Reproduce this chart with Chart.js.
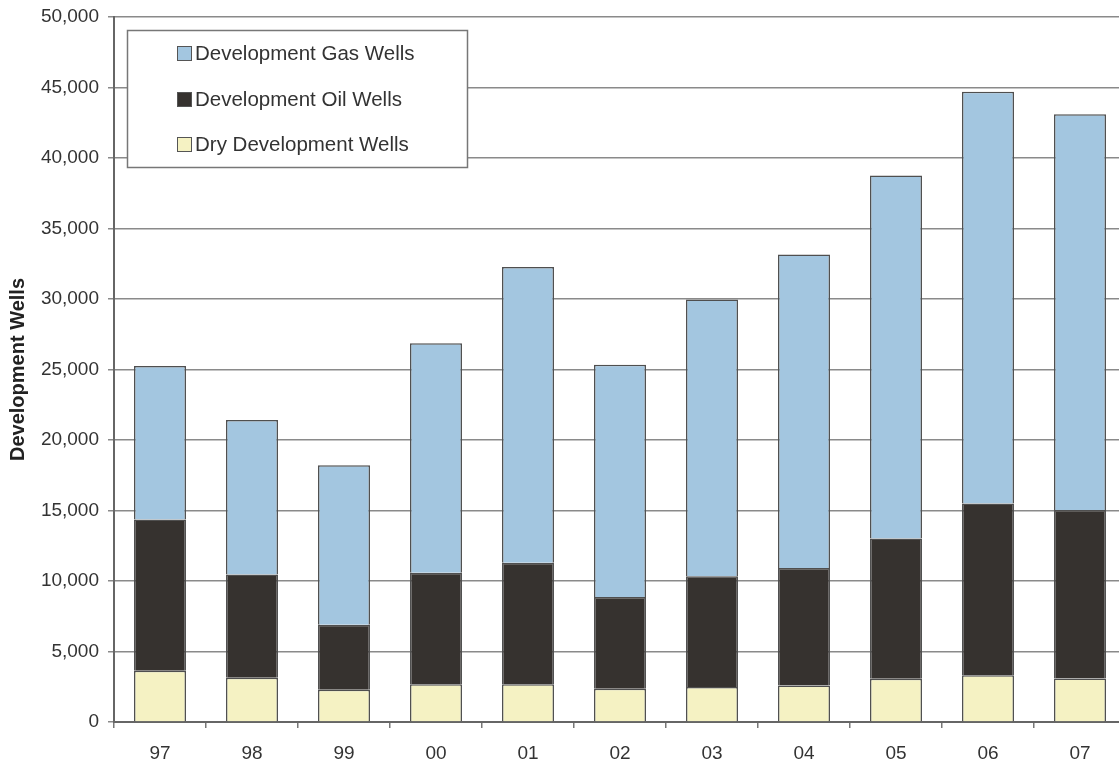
<!DOCTYPE html>
<html>
<head>
<meta charset="utf-8">
<script src="https://cdn.jsdelivr.net/npm/chart.js@4"></script>
<style>
  html, body { margin: 0; padding: 0; background: #fff; }
  #wrap { width: 1119px; height: 763px; overflow: hidden; }
</style>
</head>
<body>
<div id="wrap"><canvas id="myChart" width="1126" height="763"></canvas></div>
<script>
// years on the x axis
const years = ["97", "98", "99", "00", "01", "02", "03", "04", "05", "06", "07"];

// wells per year, one array per stack segment
const dryWells = [3630, 3130, 2280, 2680, 2680, 2350, 2490, 2580, 3060, 3320, 3080];
const oilWells = [10740, 7330, 4620, 7900, 8610, 6520, 7840, 8350, 9960, 12180, 11950];
const gasWells = [10880, 10950, 11310, 16280, 20980, 16470, 19630, 22230, 25740, 29190, 28070];

const yTicks = [0, 5000, 10000, 15000, 20000, 25000, 30000, 35000, 40000, 45000, 50000];

const font = "'Liberation Sans', Arial, sans-serif";

// boxed legend in the top left, gas first like the original
const boxLegend = {
  id: "boxLegend",
  afterDatasetsDraw(chart) {
    const c = chart.ctx;
    c.save();
    c.fillStyle = "#fff";
    c.fillRect(127, 30, 340, 137);
    c.strokeStyle = "#777";
    c.lineWidth = 1.5;
    c.strokeRect(127.5, 30.5, 340, 137);
    const items = chart.data.datasets.slice().reverse();
    const rows = [53, 99, 144];
    c.font = "20.5px " + font;
    c.textBaseline = "middle";
    items.forEach(function (ds, i) {
      const y = rows[i];
      c.fillStyle = ds.backgroundColor;
      c.fillRect(177, y - 7, 14, 14);
      c.strokeStyle = "#555";
      c.lineWidth = 1;
      c.strokeRect(177.5, y - 6.5, 14, 14);
      c.fillStyle = "#333";
      c.fillText(ds.label, 195, y + 1);
    });
    c.restore();
  }
};

const ctx = document.getElementById("myChart");
new Chart(ctx, {
  type: "bar",
  data: {
    labels: years,
    datasets: [
      {
        label: "Dry Development Wells",
        data: dryWells,
        backgroundColor: "#f5f2c3",
        borderColor: "#4f4f4f",
        borderWidth: 1.5
      },
      {
        label: "Development Oil Wells",
        data: oilWells,
        backgroundColor: "#36322f",
        borderColor: "#4f4f4f",
        borderWidth: 1.5
      },
      {
        label: "Development Gas Wells",
        data: gasWells,
        backgroundColor: "#a3c6e0",
        borderColor: "#4f4f4f",
        borderWidth: 1.5
      }
    ]
  },
  options: {
    responsive: false,
    animation: false,
    barPercentage: 0.565,
    categoryPercentage: 1,
    layout: { padding: { top: 17, left: 0, right: 0, bottom: 0 } },
    plugins: {
      legend: { display: false },
      tooltip: { enabled: false }
    },
    scales: {
      x: {
        stacked: true,
        afterFit(scale) { scale.height = 41; },
        grid: {
          drawOnChartArea: false,
          drawTicks: true,
          tickLength: 6,
          color: "#777",
          lineWidth: 1.5
        },
        border: { display: true, color: "#666", width: 2 },
        ticks: {
          color: "#333",
          padding: 14,
          font: { family: font, size: 19 }
        }
      },
      y: {
        stacked: true,
        min: 0,
        max: 50000,
        afterFit(scale) {
          scale.width = 114;
          scale.paddingTop = 0;
          scale.paddingBottom = 0;
        },
        afterBuildTicks(scale) {
          scale.ticks = yTicks.map(function (v) { return { value: v }; });
        },
        grid: {
          color: "#8a8a8a",
          lineWidth: 1.5,
          tickLength: 6
        },
        border: { display: true, color: "#666", width: 2 },
        ticks: {
          color: "#333",
          padding: 9,
          font: { family: font, size: 19 },
          callback: function (v) { return v.toLocaleString("en-US"); }
        },
        title: {
          display: true,
          text: "Development Wells",
          color: "#222",
          padding: { top: 6, bottom: 0 },
          font: { family: font, size: 20, weight: "bold" }
        }
      }
    }
  },
  plugins: [boxLegend]
});
</script>
</body>
</html>
